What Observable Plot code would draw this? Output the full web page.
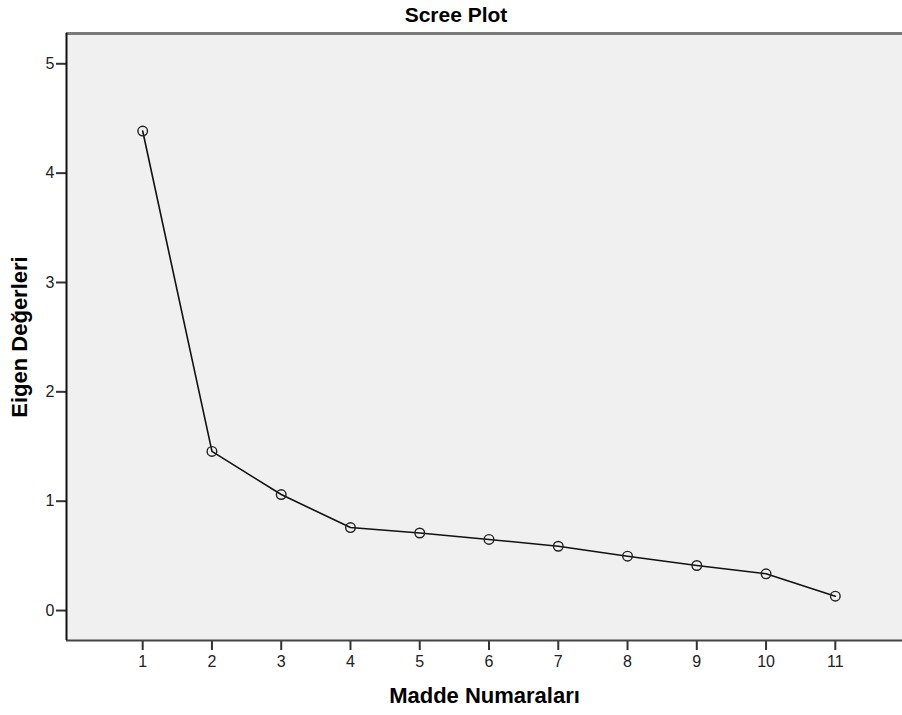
<!DOCTYPE html>
<html>
<head>
<meta charset="utf-8">
<script src="https://cdn.jsdelivr.net/npm/d3@7"></script>
<script src="https://cdn.jsdelivr.net/npm/@observablehq/plot@0.6"></script>
<style>
  html, body { margin: 0; padding: 0; background: #fff; }
  #title { width: 902px; height: 31px; line-height: 30px; text-align: center; box-sizing: border-box; padding-left: 10px;
           font-family: "Liberation Sans", Arial, sans-serif; font-weight: bold; font-size: 21px; color: #000; }
</style>
</head>
<body>
<div id="title">Scree Plot</div>
<div id="chart"></div>
<script>
const components = [1, 2, 3, 4, 5, 6, 7, 8, 9, 10, 11];
const eigenvalues = [4.385, 1.455, 1.061, 0.759, 0.709, 0.650, 0.588, 0.497, 0.412, 0.336, 0.131];
const yTicks = [0, 1, 2, 3, 4, 5];
const xTicks = components;
const xLabel = "Madde Numaraları";
const yLabel = "Eigen Değerleri";

const data = components.map((c, i) => ({c, v: eigenvalues[i]}));
const xDomain = [-0.1, 11.97];
const yDomain = [-0.274, 5.277];

const plot = Plot.plot({
  width: 902,
  height: 684,
  marginTop: 2,
  marginBottom: 75,
  marginLeft: 66,
  marginRight: 0,
  style: {fontFamily: "'Liberation Sans', Arial, sans-serif", background: "#fff"},
  x: {domain: xDomain, axis: null},
  y: {domain: yDomain, axis: null},
  marks: [
    Plot.frame({fill: "#f0f0f0", stroke: "none"}),
    Plot.axisX({ticks: xTicks, tickFormat: d3.format("d"), tickSize: 10, tickPadding: 5, fontSize: 16, color: "#222", stroke: "#333", strokeWidth: 2, label: null}),
    Plot.axisY({ticks: yTicks, tickFormat: d3.format("d"), tickSize: 10, tickPadding: 2, fontSize: 16, color: "#222", stroke: "#333", strokeWidth: 2, label: null}),
    Plot.ruleY([yDomain[1]], {stroke: "#7a7a7a", strokeWidth: 3}),
    Plot.ruleY([yDomain[0]], {stroke: "#444", strokeWidth: 2}),
    Plot.ruleX([xDomain[0]], {stroke: "#111", strokeWidth: 2}),
    Plot.line(data, {x: "c", y: "v", stroke: "#111", strokeWidth: 1.6}),
    Plot.dot(data, {x: "c", y: "v", r: 4.8, stroke: "#222", strokeWidth: 1.4, fill: "none"}),
    Plot.text([yLabel], {frameAnchor: "left", textAnchor: "middle", lineAnchor: "middle", dx: -47, rotate: -90, fontSize: 22, fontWeight: "bold", fill: "#000"}),
    Plot.text([xLabel], {frameAnchor: "bottom", textAnchor: "middle", lineAnchor: "middle", dy: 55, fontSize: 22, fontWeight: "bold", fill: "#000"})
  ]
});
document.getElementById("chart").appendChild(plot);
</script>
</body>
</html>
